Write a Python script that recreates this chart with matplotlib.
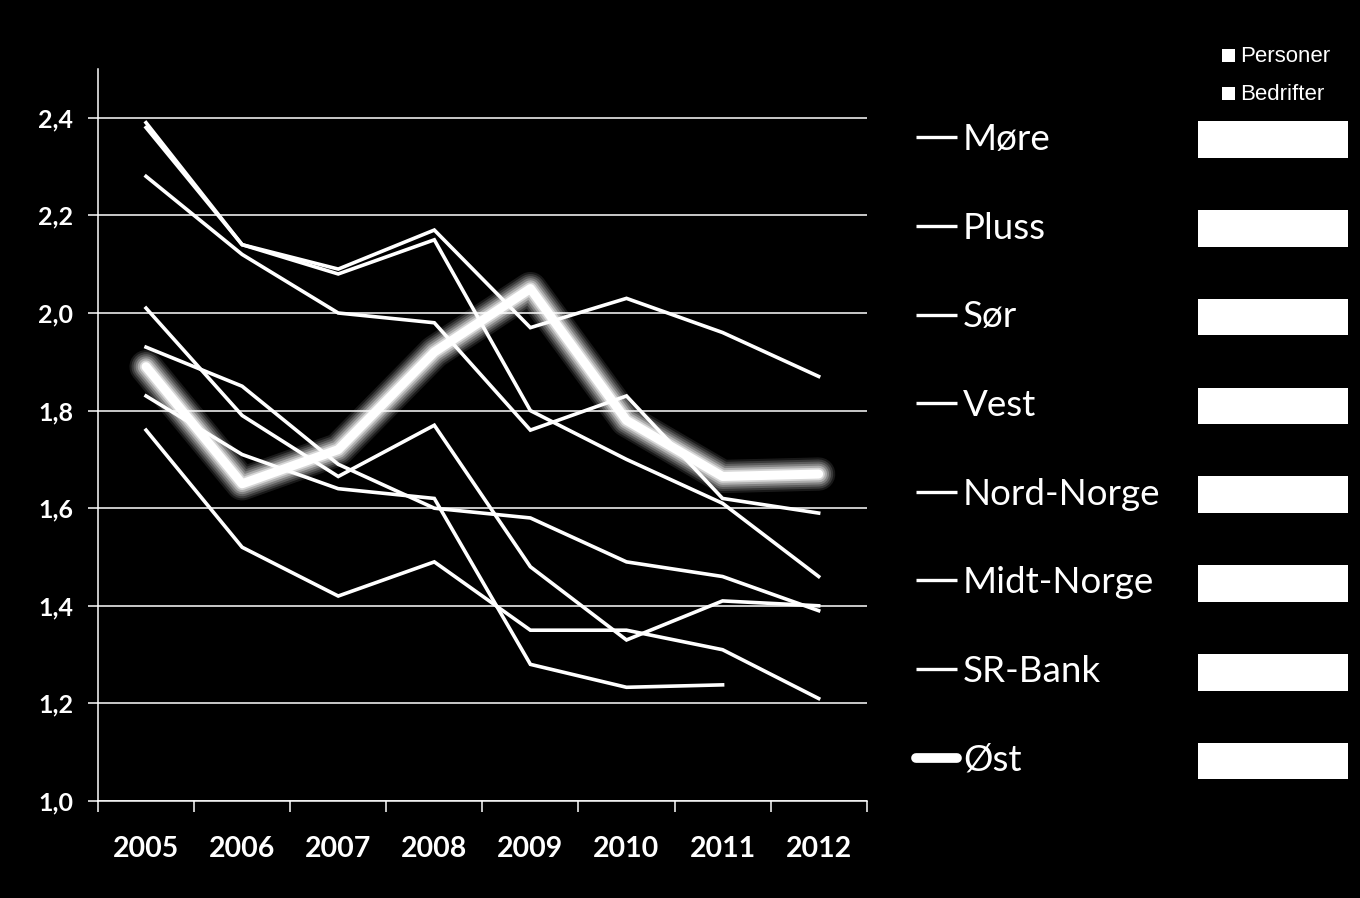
import numpy as np
import matplotlib
matplotlib.use('Agg')
import matplotlib.pyplot as plt
from matplotlib.lines import Line2D
from matplotlib.patches import Rectangle

plt.rcParams['font.family'] = ['Lato', 'DejaVu Sans']

years = ['2005', '2006', '2007', '2008', '2009', '2010', '2011', '2012']
names = ['Møre', 'Pluss', 'Sør', 'Vest', 'Nord-Norge', 'Midt-Norge', 'SR-Bank', 'Øst']

more = [2.39, 2.14, 2.09, 2.17, 1.97, 2.03, 1.96, 1.87]
pluss = [2.38, 2.14, 2.08, 2.15, 1.80, 1.70, 1.61, 1.46]
sor = [2.28, 2.12, 2.00, 1.98, 1.76, 1.83, 1.62, 1.59]
vest = [2.01, 1.79, 1.665, 1.77, 1.48, 1.33, 1.41, 1.40]
nord_norge = [1.93, 1.85, 1.69, 1.60, 1.58, 1.49, 1.46, 1.39]
midt_norge = [1.83, 1.71, 1.64, 1.62, 1.28, 1.233, 1.238, np.nan]
sr_bank = [1.76, 1.52, 1.42, 1.49, 1.35, 1.35, 1.31, 1.21]
ost = [1.89, 1.65, 1.72, 1.92, 2.05, 1.78, 1.665, 1.67]

thin_series = [more, pluss, sor, vest, nord_norge, midt_norge, sr_bank]
yticks = [1.0, 1.2, 1.4, 1.6, 1.8, 2.0, 2.2, 2.4]

W, H = 1360, 898
fig = plt.figure(figsize=(13.6, 8.98), dpi=100, facecolor='black')
ax = fig.add_axes([98 / W, 1 - 801 / H, (866.7 - 98) / W, (801 - 69) / H])
ax.set_facecolor('black')

x = np.arange(len(years))

# soft glow under the thick line
for lw, a in [(24, 0.10), (21, 0.14), (18, 0.18), (15, 0.24), (12, 0.35), (9, 0.5)]:
    ax.plot(x, ost, color='white', lw=lw, alpha=a, solid_capstyle='round',
            solid_joinstyle='round', zorder=2)

for s in thin_series:
    ax.plot(x, s, color='white', lw=2.6, zorder=3, solid_joinstyle='miter')

ax.plot(x, ost, color='white', lw=6.5, solid_capstyle='round',
        solid_joinstyle='round', zorder=4)

ax.set_xlim(-0.5, 7.5)
ax.set_ylim(1.0, 2.5)
ax.set_yticks(yticks)
ax.set_yticklabels([('%.1f' % v).replace('.', ',') for v in yticks],
                   fontweight='bold')
ax.yaxis.grid(True, color='white', lw=1.1)
ax.set_axisbelow(True)

ax.set_xticks(np.arange(-0.5, 8, 1.0))
ax.set_xticklabels([])
ax.set_xticks(x, minor=True)
ax.set_xticklabels(years, minor=True, fontweight='bold')

ax.tick_params(axis='y', colors='white', length=7, width=1.1, labelsize=18, pad=11)
ax.tick_params(axis='x', which='major', colors='white', length=8, width=1.1)
ax.tick_params(axis='x', which='minor', length=0, labelsize=20.5,
               labelcolor='white', pad=25)

for side in ['top', 'right']:
    ax.spines[side].set_visible(False)
for side in ['left', 'bottom']:
    ax.spines[side].set_color('white')
    ax.spines[side].set_linewidth(1.1)

# legend on the right
for i, name in enumerate(names):
    yc = 137.3 + i * 88.6
    yf = 1 - yc / H
    lw = 7 if name == 'Øst' else 2.4
    fig.add_artist(Line2D([916 / W, 957 / W], [yf, yf], transform=fig.transFigure,
                          color='white', lw=lw, solid_capstyle='round' if name == 'Øst' else 'butt'))
    fig.text(963 / W, 1 - (yc + 13) / H, name, color='white', fontsize=26.5,
             va='baseline', ha='left')
    yr = 139.5 + i * 88.8
    fig.add_artist(Rectangle((1198 / W, 1 - (yr + 18.3) / H), 150 / W, 36.7 / H,
                             transform=fig.transFigure, facecolor='white',
                             edgecolor='none'))

for label, top, base in [('Personer', 49, 62.3), ('Bedrifter', 87, 100)]:
    fig.add_artist(Rectangle((1222 / W, 1 - (top + 13) / H), 13 / W, 13 / H,
                             transform=fig.transFigure, facecolor='white',
                             edgecolor='none'))
    fig.text(1240 / W, 1 - base / H, label, color='white', fontsize=16,
             family=['Liberation Sans', 'DejaVu Sans'], va='baseline', ha='left')

fig.savefig('out.png', dpi=100, facecolor='black')
